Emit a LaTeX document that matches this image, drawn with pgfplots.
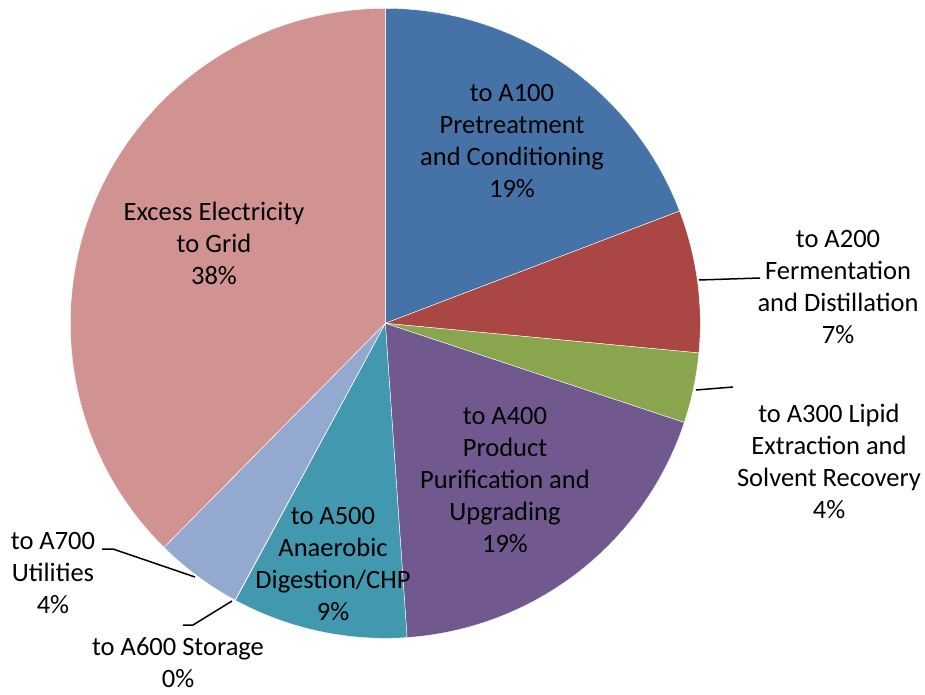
\documentclass[border=0pt]{standalone}
\usepackage{pgfplots}
\pgfplotsset{compat=1.18}
\usepackage{fontspec}
\setmainfont{Carlito}
\definecolor{cA}{HTML}{4572A7}
\definecolor{cB}{HTML}{AA4643}
\definecolor{cC}{HTML}{89A54E}
\definecolor{cD}{HTML}{71588F}
\definecolor{cE}{HTML}{4198AF}
\definecolor{cF}{HTML}{DB843D}
\definecolor{cG}{HTML}{93A9CF}
\definecolor{cH}{HTML}{D19392}
\def\cx{385.3}
\def\cy{370.7}
\def\rr{315}
\gdef\cum{0}
\newcommand{\pieslice}[2]{%
  \pgfmathsetmacro{\angA}{90-3.6*\cum}%
  \pgfmathsetmacro{\angB}{90-3.6*(\cum+#2)}%
  \pgfmathsetmacro{\newcum}{\cum+#2}%
  \xdef\cum{\newcum}%
  \edef\temp{\noexpand\addplot[fill=#1, draw=white, line width=0.4pt, domain=\angB:\angA, samples=90, variable=\noexpand\t] ({\cx+\rr*cos(\noexpand\t)},{\cy+\rr*sin(\noexpand\t)}) -- (axis cs:\cx,\cy) -- cycle;}%
  \temp
}
\begin{document}
\begin{tikzpicture}
\begin{axis}[
  width=925pt, height=694pt, scale only axis,
  xmin=0, xmax=925, ymin=0, ymax=694,
  hide axis, clip=false,
]
\path (axis cs:0,0) rectangle (axis cs:925,694);
% shares in percent, clockwise from 12 o'clock
\pieslice{cA}{19.2}% to A100
\pieslice{cB}{7.3}%  to A200
\pieslice{cC}{3.6}%  to A300
\pieslice{cD}{18.8}% to A400
\pieslice{cE}{9.0}%  to A500
\pieslice{cF}{0.02}% to A600
\pieslice{cG}{4.48}% to A700
\pieslice{cH}{37.6}% Excess
% leader lines
\draw[black, line width=1.5pt] (axis cs:699,414) -- (axis cs:760,416);
\draw[black, line width=1.5pt] (axis cs:696,304) -- (axis cs:733,307);
\draw[black, line width=1.5pt] (axis cs:102,145) -- (axis cs:113,145) -- (axis cs:195,117);
\draw[black, line width=1.5pt] (axis cs:232,93) -- (axis cs:193,69) -- (axis cs:183,69);
% labels
\tikzset{lab/.style={align=center, font=\fontsize{26.5}{32}\selectfont, inner sep=0pt}}
\node[lab] at (axis cs:512,553) {to A100\\Pretreatment\\and Conditioning\\19\%};
\node[lab] at (axis cs:838,407) {to A200\\Fermentation\\and Distillation\\7\%};
\node[lab] at (axis cs:829,233) {to A300 Lipid\\Extraction and\\Solvent Recovery\\4\%};
\node[lab] at (axis cs:505,214) {to A400\\Product\\Purification and\\Upgrading\\19\%};
\node[lab] at (axis cs:333,130) {to A500\\Anaerobic\\Digestion/CHP\\9\%};
\node[lab] at (axis cs:178,31) {to A600 Storage\\0\%};
\node[lab] at (axis cs:53,121) {to A700\\Utilities\\4\%};
\node[lab] at (axis cs:214,451) {Excess Electricity\\to Grid\\38\%};
\end{axis}
\end{tikzpicture}
\end{document}
